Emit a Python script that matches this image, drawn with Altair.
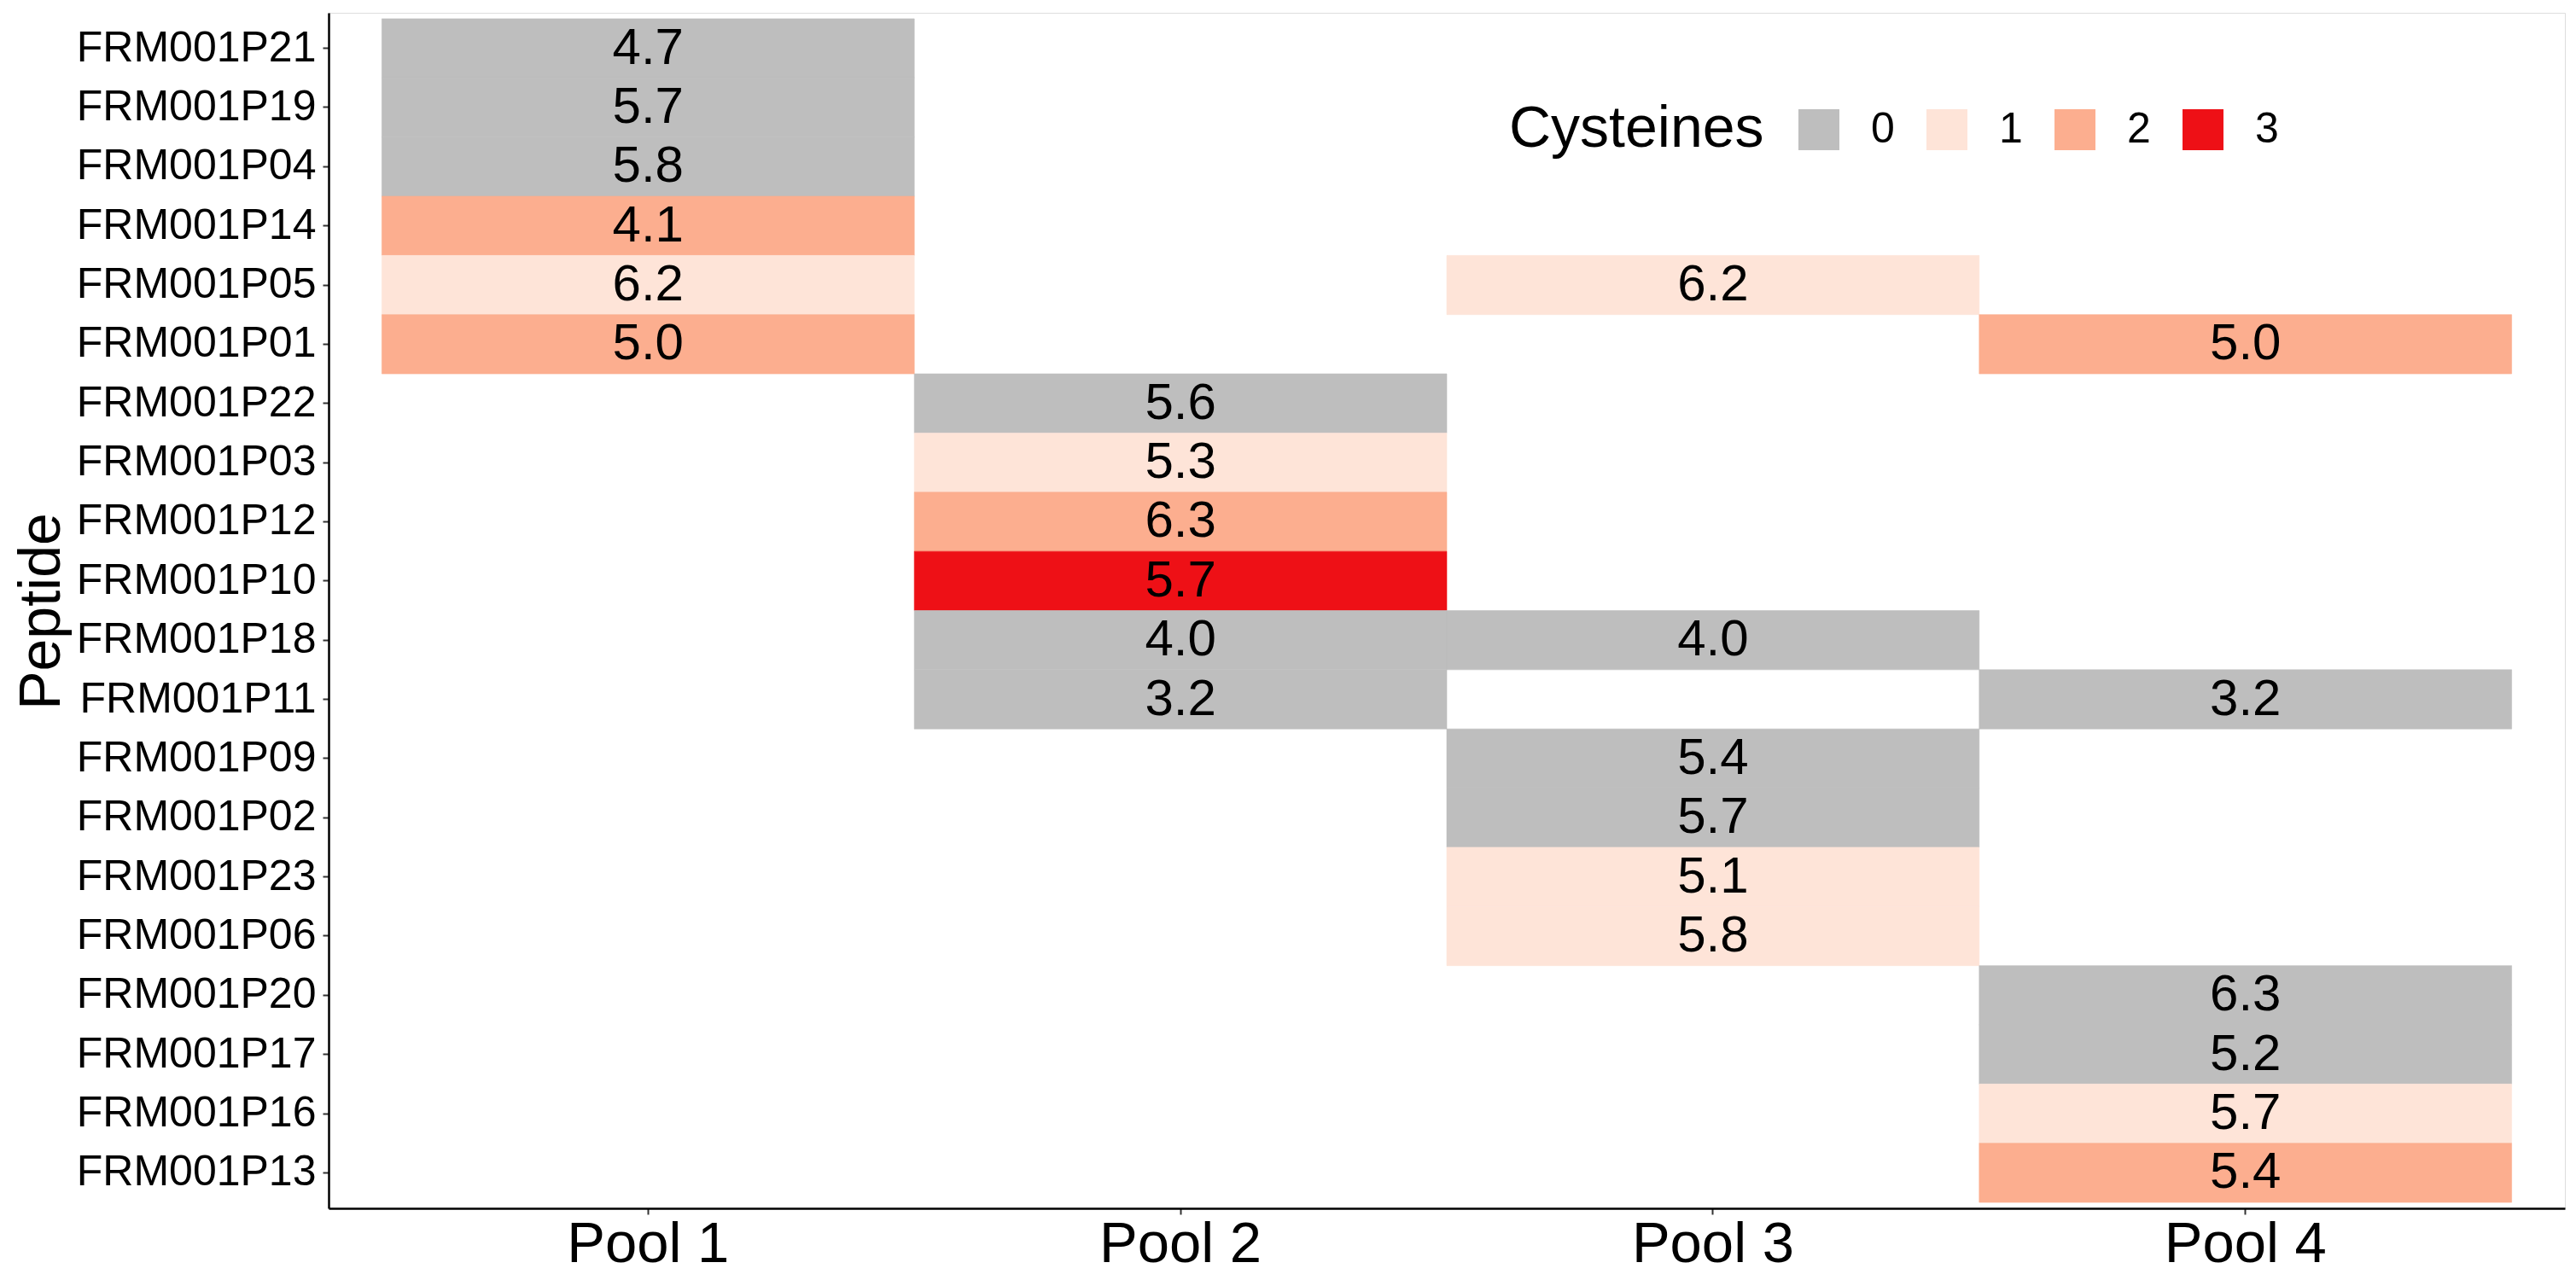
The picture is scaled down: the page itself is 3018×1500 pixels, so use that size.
import altair as alt
import pandas as pd

# Peptide order (top to bottom)
peptide_order = ["FRM001P21", "FRM001P19", "FRM001P04", "FRM001P14", "FRM001P05",
                 "FRM001P01", "FRM001P22", "FRM001P03", "FRM001P12", "FRM001P10",
                 "FRM001P18", "FRM001P11", "FRM001P09", "FRM001P02", "FRM001P23",
                 "FRM001P06", "FRM001P20", "FRM001P17", "FRM001P16", "FRM001P13"]
pools = ["Pool 1", "Pool 2", "Pool 3", "Pool 4"]

# Cells
cell_peptide = ["FRM001P21", "FRM001P19", "FRM001P04", "FRM001P14", "FRM001P05", "FRM001P05",
                "FRM001P01", "FRM001P01", "FRM001P22", "FRM001P03", "FRM001P12", "FRM001P10",
                "FRM001P18", "FRM001P18", "FRM001P11", "FRM001P11", "FRM001P09", "FRM001P02",
                "FRM001P23", "FRM001P06", "FRM001P20", "FRM001P17", "FRM001P16", "FRM001P13"]
cell_pool = ["Pool 1", "Pool 1", "Pool 1", "Pool 1", "Pool 1", "Pool 3",
             "Pool 1", "Pool 4", "Pool 2", "Pool 2", "Pool 2", "Pool 2",
             "Pool 2", "Pool 3", "Pool 2", "Pool 4", "Pool 3", "Pool 3",
             "Pool 3", "Pool 3", "Pool 4", "Pool 4", "Pool 4", "Pool 4"]
cell_value = [4.7, 5.7, 5.8, 4.1, 6.2, 6.2,
              5.0, 5.0, 5.6, 5.3, 6.3, 5.7,
              4.0, 4.0, 3.2, 3.2, 5.4, 5.7,
              5.1, 5.8, 6.3, 5.2, 5.7, 5.4]
cell_cys = ["0", "0", "0", "2", "1", "1",
            "2", "2", "0", "1", "2", "3",
            "0", "0", "0", "0", "0", "0",
            "1", "1", "0", "0", "1", "2"]

cys_levels = ["0", "1", "2", "3"]
cys_colors = ["#BEBEBE", "#FEE4D8", "#FCAE8F", "#EE1016"]

df = pd.DataFrame({
    "Peptide": cell_peptide,
    "Pool": cell_pool,
    "Value": cell_value,
    "Cysteines": cell_cys,
})
df["Label"] = [f"{v:.1f}" for v in df["Value"]]

FONT = "Liberation Sans"

x_enc = alt.X("Pool:N", sort=pools, title=None,
              scale=alt.Scale(paddingInner=0, paddingOuter=0.1),
              axis=alt.Axis(labelFontSize=67, labelFont=FONT, labelColor="#000000",
                            labelAngle=0, labelPadding=2, labelLimit=0,
                            domainColor="#000000", domainWidth=2.5,
                            tickColor="#333333", tickWidth=2, tickSize=7,
                            grid=False))
y_enc = alt.Y("Peptide:N", sort=peptide_order,
              scale=alt.Scale(paddingInner=0, paddingOuter=0.1),
              axis=alt.Axis(title="Peptide", titleFontSize=68, titleFont=FONT,
                            titleFontWeight="normal", titleColor="#000000",
                            titleAngle=270, titleX=-316, titleY=701,
                            titleAlign="center", titleBaseline="alphabetic",
                            titleLimit=0,
                            labelFontSize=50, labelFont=FONT, labelColor="#000000",
                            labelPadding=8, labelLimit=0,
                            domainColor="#000000", domainWidth=2.5,
                            tickColor="#333333", tickWidth=2, tickSize=7,
                            grid=False))

rects = alt.Chart(df).mark_rect(strokeWidth=0.6).encode(
    x=x_enc,
    y=y_enc,
    color=alt.Color("Cysteines:N",
                    scale=alt.Scale(domain=cys_levels, range=cys_colors),
                    legend=alt.Legend(title="Cysteines", orient="none",
                                      direction="horizontal", titleOrient="left",
                                      legendX=1383, legendY=112,
                                      titleFontSize=68, titleFont=FONT,
                                      titleFontWeight="normal", titleColor="#000000",
                                      titleBaseline="middle", titlePadding=39,
                                      titleLimit=0, labelLimit=0,
                                      labelFontSize=50, labelFont=FONT,
                                      labelColor="#000000", labelOffset=36,
                                      columnPadding=36,
                                      symbolType="square", symbolSize=2300,
                                      symbolStrokeWidth=0, symbolOpacity=1,
                                      padding=0)),
    stroke=alt.Color("Cysteines:N",
                     scale=alt.Scale(domain=cys_levels, range=cys_colors),
                     legend=None),
)

texts = alt.Chart(df).mark_text(fontSize=60, font=FONT, color="#000000",
                                baseline="middle", align="center").encode(
    x=alt.X("Pool:N", sort=pools),
    y=alt.Y("Peptide:N", sort=peptide_order),
    text="Label:N",
)

chart = alt.layer(rects, texts).properties(
    width=2620, height=1401,
    autosize=alt.AutoSizeParams(type="none"),
    padding={"left": 377, "top": 7, "right": 5, "bottom": 75},
).configure_view(stroke=None).configure(background="white")

chart.save("out.html", embed_options={"renderer": "svg", "actions": False})
